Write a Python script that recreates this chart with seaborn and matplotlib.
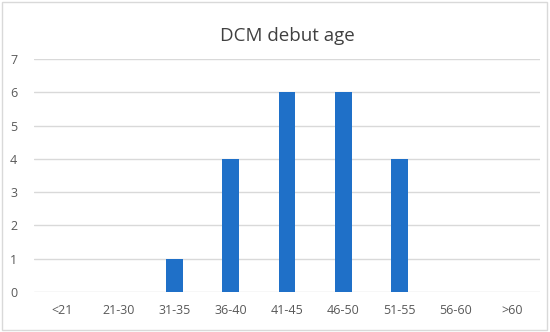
import matplotlib.pyplot as plt
import seaborn as sns
import pandas as pd
from matplotlib.patches import Rectangle

age_groups = ['<21', '21-30', '31-35', '36-40', '41-45', '46-50', '51-55', '56-60', '>60']
counts = [0, 0, 1, 4, 6, 6, 4, 0, 0]

df = pd.DataFrame({'age': age_groups, 'n': counts})

sns.set_theme(style='white')
plt.rcParams['font.family'] = ['Open Sans', 'DejaVu Sans']

fig = plt.figure(figsize=(5.5, 3.32), dpi=100)
ax = fig.add_axes([34 / 550, 40 / 332, 506 / 550, 233 / 332])

sns.barplot(data=df, x='age', y='n', color='#1f70c8', width=0.3, saturation=1,
            linewidth=0, ax=ax)

ax.set_ylim(0, 7)
ax.set_yticks(range(0, 8))
ax.yaxis.grid(True, color='#d9d9d9', linewidth=1)
ax.set_axisbelow(True)
for s in ax.spines.values():
    s.set_visible(False)
ax.tick_params(axis='both', length=0, labelsize=9, labelcolor='#595959')
ax.tick_params(axis='x', pad=9)
ax.tick_params(axis='y', pad=12)
ax.set_xlabel('')
ax.set_ylabel('')
ax.set_title('DCM debut age', fontsize=13.5, color='#404040', pad=13)

fig.patches.append(Rectangle((0.004, 0.006), 0.99, 0.988, transform=fig.transFigure,
                             fill=False, edgecolor='#d9d9d9', linewidth=1))

plt.savefig('out.png', dpi=100)
